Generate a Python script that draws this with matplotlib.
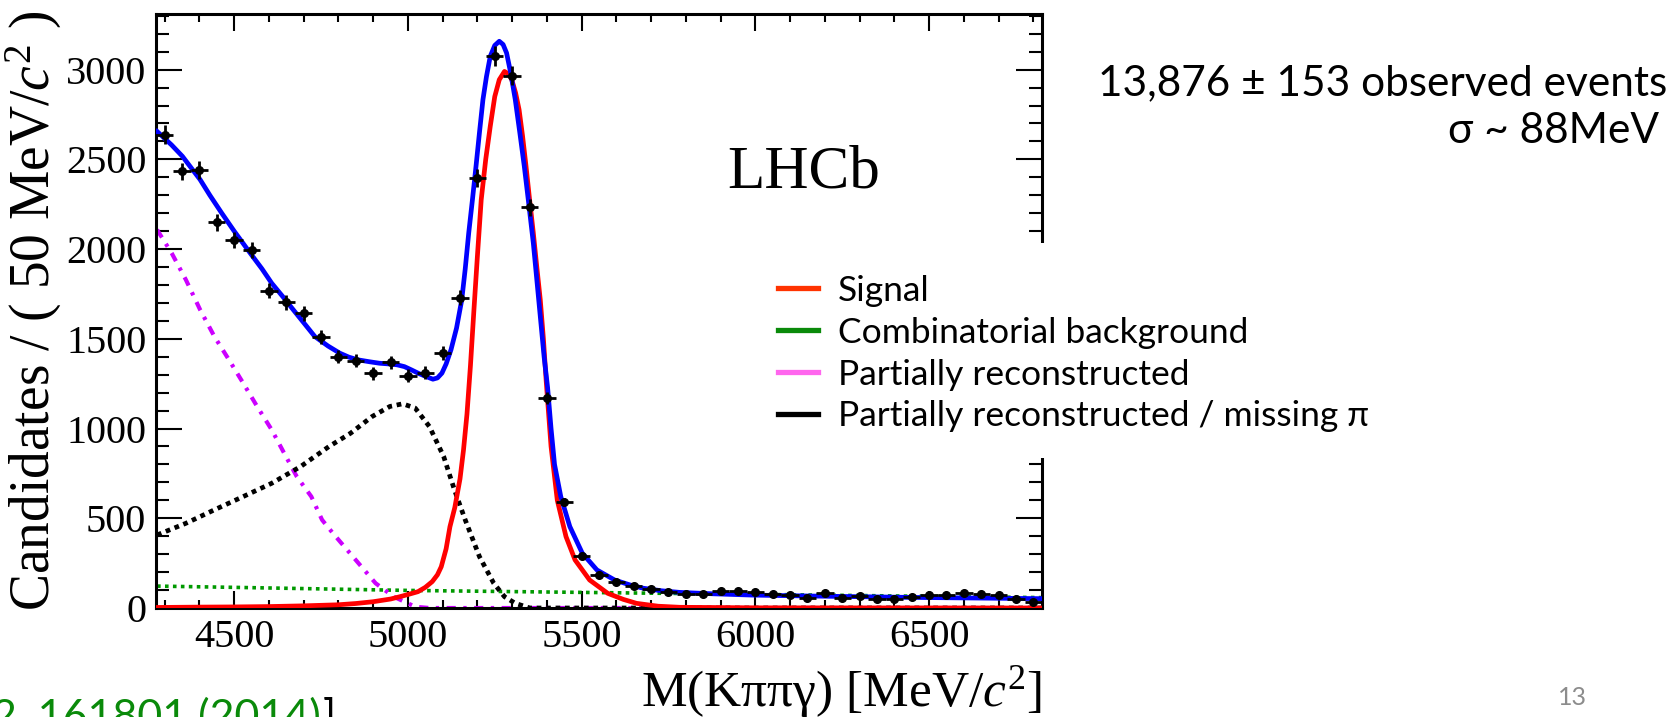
import matplotlib
matplotlib.use("Agg")
import matplotlib.pyplot as plt
from matplotlib.lines import Line2D
from matplotlib.patches import Rectangle
from matplotlib.ticker import MultipleLocator

plt.rcParams["mathtext.fontset"] = "custom"
plt.rcParams["mathtext.rm"] = "Liberation Serif"
plt.rcParams["mathtext.it"] = "Liberation Serif:italic"

SERIF = "Liberation Serif"
SANS = ["Lato", "DejaVu Sans"]

# data: bin centres (MeV/c^2), candidates per 50 MeV/c^2, errors
bin_centres = [4300, 4350, 4400, 4450, 4500, 4550, 4600, 4650, 4700, 4750,
               4800, 4850, 4900, 4950, 5000, 5050, 5100, 5150, 5200, 5250,
               5300, 5350, 5400, 5450, 5500, 5550, 5600, 5650, 5700, 5750,
               5800, 5850, 5900, 5950, 6000, 6050, 6100, 6150, 6200, 6250,
               6300, 6350, 6400, 6450, 6500, 6550, 6600, 6650, 6700, 6750, 6800]
counts = [2638, 2433, 2440, 2149, 2052, 1993, 1768, 1703, 1643, 1509,
          1401, 1379, 1309, 1370, 1294, 1312, 1420, 1730, 2396, 3078,
          2967, 2234, 1168, 590, 292, 184, 146, 120, 105, 88,
          76, 80, 95, 93, 89, 80, 74, 58, 84, 58,
          69, 48, 52, 61, 72, 74, 82, 76, 71, 50, 35]
count_err = [51, 49, 49, 46, 45, 45, 42, 41, 41, 39,
             37, 37, 36, 37, 36, 36, 38, 42, 49, 55,
             54, 47, 34, 24, 17, 14, 12, 11, 10, 9,
             9, 9, 10, 10, 9, 9, 9, 8, 9, 8,
             8, 7, 7, 8, 8, 9, 9, 9, 8, 7, 6]

# fit components
total_x = [4278, 4320, 4351, 4402, 4430, 4464, 4500, 4546, 4580, 4608, 4640,
           4670, 4700, 4732, 4770, 4804, 4830, 4856, 4890, 4918, 4945, 4969,
           4990, 5010, 5030, 5052, 5072, 5085, 5098, 5110, 5124, 5140, 5155,
           5165, 5175, 5186, 5196, 5206, 5216, 5226, 5237, 5250, 5263, 5274,
           5284, 5296, 5309, 5322, 5335, 5348, 5361, 5371, 5381, 5392, 5402,
           5412, 5422, 5440, 5466, 5502, 5544, 5595, 5640, 5678, 5730, 5782,
           5880, 5990, 6150, 6301, 6450, 6612, 6825]
total_y = [2656, 2580, 2517, 2387, 2300, 2201, 2100, 1978, 1890, 1810, 1735,
           1662, 1590, 1513, 1460, 1420, 1398, 1383, 1372, 1364, 1360, 1355,
           1345, 1327, 1308, 1290, 1275, 1282, 1309, 1360, 1439, 1560, 1717,
           1890, 2089, 2280, 2461, 2650, 2833, 2960, 3074, 3135, 3158, 3140,
           3093, 2980, 2833, 2650, 2461, 2250, 2033, 1830, 1625, 1400, 1230,
           1000, 800, 621, 454, 305, 212, 156, 128, 110, 96, 87,
           79, 72, 67, 63, 59, 56, 52]

signal_x = [4278, 4400, 4500, 4600, 4700, 4800, 4850, 4900, 4950, 4977, 5000,
            5029, 5050, 5070, 5085, 5096, 5110, 5121, 5135, 5150, 5160, 5170,
            5180, 5190, 5200, 5211, 5224, 5237, 5250, 5263, 5278, 5290, 5299,
            5310, 5320, 5330, 5340, 5350, 5361, 5371, 5381, 5390, 5398, 5412,
            5430, 5455, 5481, 5523, 5575, 5620, 5658, 5720, 5782, 6000, 6825]
signal_y = [3, 5, 6, 8, 12, 18, 25, 35, 50, 63, 75,
            91, 115, 147, 185, 230, 330, 453, 560, 720, 880, 1080,
            1350, 1660, 1960, 2275, 2500, 2684, 2850, 2944, 2990, 2975, 2944,
            2870, 2777, 2630, 2461, 2280, 2089, 1900, 1717, 1500, 1265, 900,
            600, 398, 268, 156, 82, 48, 26, 10, 4, 1, 0]

comb_x = [4278, 4500, 5000, 5500, 6000, 6500, 6825]
comb_y = [122, 115, 98, 87, 76, 65, 58]

partreco_x = [4278, 4320, 4361, 4402, 4443, 4485, 4526, 4567, 4608, 4649, 4680,
              4722, 4753, 4784, 4825, 4866, 4907, 4959, 5021, 5062, 6825]
partreco_y = [2108, 1978, 1829, 1662, 1513, 1383, 1253, 1120, 993, 844, 733,
              621, 491, 417, 324, 231, 138, 63, 7, 0, 0]

misspi_x = [4278, 4361, 4443, 4526, 4608, 4691, 4773, 4835, 4897, 4948, 4985,
            5021, 5062, 5103, 5134, 5165, 5206, 5247, 5278, 5309, 5351, 6825]
misspi_y = [407, 472, 547, 621, 695, 788, 900, 974, 1067, 1123, 1138,
            1114, 1011, 844, 658, 491, 286, 138, 63, 26, 0, 0]

legend_labels = ["Signal", "Combinatorial background", "Partially reconstructed",
                 "Partially reconstructed / missing π"]
legend_colors = ["#ff3300", "#0a8a0a", "#ff66ee", "#000000"]

W, H = 1672, 717
fig = plt.figure(figsize=(W / 100, H / 100), dpi=100)
ax = fig.add_axes([156 / W, 1 - 608 / H, (1042 - 156) / W, (608 - 14) / H])

ax.plot(comb_x, comb_y, color="#009900", lw=2.6, ls=(0, (1, 1.2)), zorder=2)
ax.plot(partreco_x, partreco_y, color="#cc00ff", lw=3.0, ls=(0, (2.2, 1.8, 0.8, 1.8)), zorder=2)
ax.plot(misspi_x, misspi_y, color="black", lw=3.4, ls=(0, (1, 1)), zorder=2)
ax.plot(signal_x, signal_y, color="#ff0000", lw=3.4, zorder=3)
ax.plot(total_x, total_y, color="#0000ff", lw=3.4, zorder=3)
ax.errorbar(bin_centres, counts, yerr=count_err, xerr=25, fmt="o", color="black",
            ms=5.5, elinewidth=2.0, capsize=0, zorder=4)

ax.set_xlim(4275, 6825)
ax.set_ylim(0, 3310)
ax.xaxis.set_major_locator(MultipleLocator(500))
ax.xaxis.set_minor_locator(MultipleLocator(100))
ax.yaxis.set_major_locator(MultipleLocator(500))
ax.yaxis.set_minor_locator(MultipleLocator(100))
ax.tick_params(which="both", direction="in", top=True, right=True, width=1.5,
               labelsize=29, colors="black")
ax.tick_params(axis="x", which="major", length=12, pad=8)
ax.tick_params(axis="x", which="minor", length=6)
ax.tick_params(axis="y", which="major", length=19, pad=7)
ax.tick_params(axis="y", which="minor", length=9.5)
for lab in ax.get_xticklabels() + ax.get_yticklabels():
    lab.set_fontfamily(SERIF)
for sp in ax.spines.values():
    sp.set_linewidth(2.2)

ax.set_ylabel(r"Candidates / ( 50 MeV/$c^{2}$ )", fontsize=40, family=SERIF)
ax.yaxis.set_label_coords(-0.104, 0.5)
ax.set_xlabel(r"M(Kππγ) [MeV/$c^{2}$]", fontsize=37, family=SERIF, loc="right")
ax.xaxis.set_label_coords(1.0, -0.094)

fig.text(727 / W, 1 - 187 / H, "LHCb", fontsize=44, family=SERIF, va="baseline")

# white box of the slide legend over the right frame
fig.patches.append(Rectangle((755 / W, 1 - 458 / H), 630 / W, 215 / H,
                             transform=fig.transFigure, facecolor="white",
                             edgecolor="none", zorder=3))
handles = [Line2D([], [], color=c, lw=3.8) for c in legend_colors]
leg = fig.legend(handles, legend_labels, loc="upper left",
                 bbox_to_anchor=(760 / W, 1 - 257 / H), frameon=False,
                 prop={"family": SANS, "size": 25.5}, handlelength=1.15,
                 handletextpad=0.55, labelspacing=0.28, borderpad=0)
leg.set_zorder(6)

fig.text(1667 / W, 1 - 95 / H, "13,876 ± 153 observed events", ha="right",
         va="baseline", fontsize=30.5, family=SANS)
fig.text(1659 / W, 1 - 143 / H, "σ ~ 88MeV", ha="right", va="baseline",
         fontsize=30.5, family=SANS)

ref = fig.text(-8 / W, 1 - 730 / H, "2, 161801 (2014)", color="#0a8a0a",
               fontsize=31, family=SANS, va="baseline")
fig.canvas.draw()
ref_end = ref.get_window_extent().x1 / W
fig.text(ref_end + 2 / W, 1 - 730 / H, "]", color="black", fontsize=31,
         family=SANS, va="baseline")
fig.text(1572 / W, 1 - 705 / H, "13", color="#8c8c8c", fontsize=18, family=SANS,
         ha="center", va="baseline")

fig.savefig("out.png", dpi=100)
